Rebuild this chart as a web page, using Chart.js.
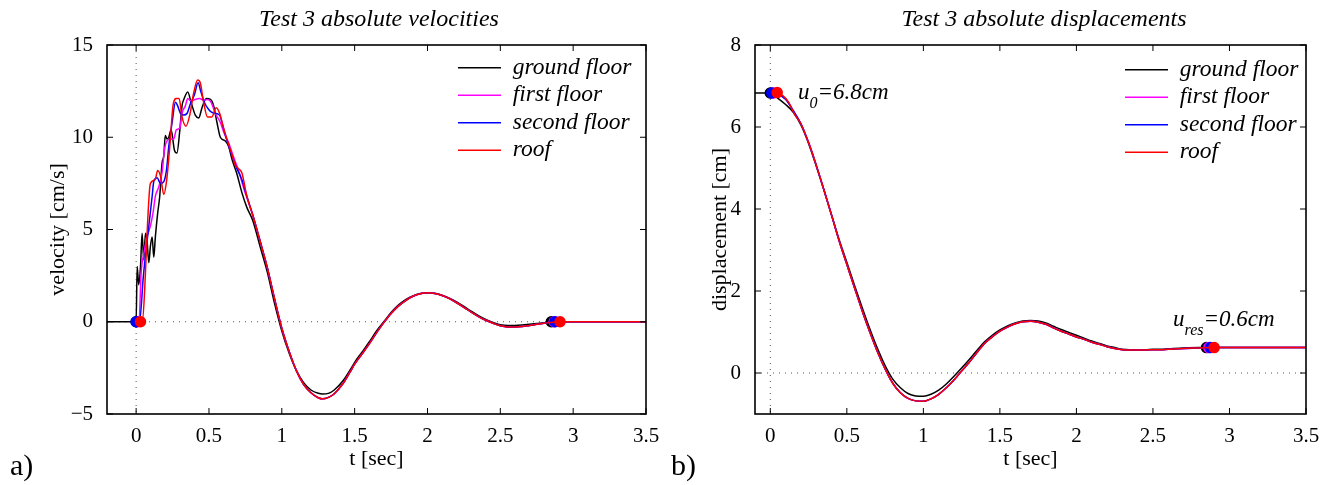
<!DOCTYPE html>
<html>
<head>
<meta charset="utf-8">
<script src="https://cdn.jsdelivr.net/npm/chart.js@4.4.1/dist/chart.umd.min.js"></script>
<style>
  body { margin: 0; background: #fff; width: 1335px; height: 485px; position: relative; overflow: hidden; font-family: "Liberation Serif", serif; color: #000; }
  canvas { position: absolute; top: 0; }
  .ttl { position: absolute; top: 6px; font-style: italic; font-size: 24px; line-height: 24px; white-space: nowrap; transform: translateX(-50%); }
  .tag { position: absolute; top: 450px; font-size: 30px; line-height: 30px; }
  .note { position: absolute; font-style: italic; font-size: 23px; line-height: 23px; white-space: nowrap; }
  .note .sb { font-size: 16px; position: relative; top: 9px; }
</style>
</head>
<body>
<canvas id="velChart" width="665" height="485" style="left:0px;width:665px;height:485px"></canvas>
<canvas id="dispChart" width="670" height="485" style="left:665px;width:670px;height:485px"></canvas>
<div class="ttl" style="left:379px">Test 3 absolute velocities</div>
<div class="ttl" style="left:1044px">Test 3 absolute displacements</div>
<div class="tag" style="left:10px">a)</div>
<div class="tag" style="left:671px">b)</div>
<div class="note" style="left:798px;top:80px">u<span class="sb">0</span>=6.8cm</div>
<div class="note" style="left:1173px;top:307px">u<span class="sb">res</span>=0.6cm</div>

<script>
const seriesNames = ['ground floor', 'first floor', 'second floor', 'roof'];
const seriesColors = ['#000000', '#ff00ff', '#0000ff', '#ff0000'];

// ---- velocities [cm/s] ----
// start of each record (first point is where the circle sits, except ground floor)
const tVelGround = [-0.2, 0, 0.007, 0.018, 0.03, 0.041, 0.052, 0.064, 0.075, 0.087, 0.098, 0.11, 0.121, 0.132, 0.148, 0.162, 0.178, 0.19, 0.2, 0.212, 0.224, 0.24, 0.263, 0.28, 0.3, 0.315, 0.33, 0.354, 0.377, 0.406, 0.43, 0.452, 0.482, 0.51, 0.532, 0.555, 0.578, 0.612, 0.635, 0.658, 0.69, 0.726, 0.76];
const vVelGround = [0, 0, 3.0, 2.0, 3.0, 4.8, 3.35, 4.8, 4.4, 3.2, 4.1, 4.6, 3.5, 4.6, 5.9, 6.8, 8.6, 9.0, 10.1, 9.9, 10.0, 10.4, 9.3, 9.15, 10.4, 11.7, 12.1, 12.45, 11.9, 11.2, 11.05, 11.6, 12.1, 12.05, 11.7, 10.8, 10.0, 9.8, 9.5, 8.8, 8.06, 7.0, 6.2];
const tVelFirst = [0.01, 0.02, 0.034, 0.053, 0.075, 0.098, 0.116, 0.132, 0.155, 0.178, 0.194, 0.212, 0.235, 0.258, 0.276, 0.3, 0.315, 0.338, 0.354, 0.377, 0.406, 0.436, 0.463, 0.49, 0.514, 0.543, 0.578, 0.605, 0.635, 0.67, 0.703, 0.74];
const vVelFirst = [0, 0, 2.6, 3.7, 4.6, 5.2, 5.9, 6.8, 7.3, 8.1, 9.3, 9.8, 9.9, 9.9, 10.4, 10.5, 11.3, 11.7, 12.1, 11.96, 12.05, 12.1, 12.0, 12.05, 11.9, 11.3, 10.8, 10.2, 9.7, 8.9, 8.2, 7.2];
const tVelSecond = [0, 0.023, 0.05, 0.087, 0.11, 0.121, 0.144, 0.167, 0.19, 0.208, 0.224, 0.247, 0.27, 0.285, 0.304, 0.326, 0.35, 0.372, 0.4, 0.425, 0.445, 0.468, 0.498, 0.52, 0.543, 0.573, 0.596, 0.62, 0.658, 0.692, 0.726, 0.76];
const vVelSecond = [0, 0, 2.5, 5.2, 6.8, 7.6, 7.8, 7.5, 7.6, 8.2, 9.5, 10.8, 11.9, 11.7, 11.3, 11.2, 11.3, 11.8, 12.3, 12.95, 12.45, 11.9, 11.5, 11.35, 11.3, 11.2, 10.6, 9.9, 9.0, 8.3, 7.7, 6.8];
const tVelRoof = [0.03, 0.04, 0.098, 0.13, 0.148, 0.167, 0.19, 0.21, 0.235, 0.253, 0.276, 0.295, 0.315, 0.342, 0.368, 0.395, 0.422, 0.44, 0.463, 0.49, 0.52, 0.55, 0.573, 0.6, 0.623, 0.658, 0.68, 0.703, 0.726, 0.76];
const vVelRoof = [0, 0, 7.5, 7.7, 8.2, 7.9, 6.9, 7.7, 9.9, 11.7, 12.1, 12.1, 11.1, 10.6, 11.2, 12.4, 13.1, 12.95, 11.9, 11.1, 11.1, 11.6, 11.3, 10.5, 9.9, 9.06, 8.5, 8.3, 8.06, 6.8];
// free vibration part, nearly identical for the floors
const tVelTail = [0.8, 0.85, 0.9, 0.95, 1.0, 1.05, 1.1, 1.15, 1.2, 1.25, 1.28, 1.32, 1.36, 1.42, 1.47, 1.5, 1.55, 1.6, 1.65, 1.7, 1.75, 1.8, 1.85, 1.9, 1.95, 2.0, 2.05, 2.1, 2.15, 2.2, 2.25, 2.3, 2.35, 2.4, 2.45, 2.5, 2.55, 2.6, 2.65, 2.7, 2.75, 2.8];
const vVelTailGround = [5.5, 4.1, 2.7, 1.0, -0.5, -1.7, -2.65, -3.3, -3.7, -3.88, -3.92, -3.88, -3.7, -3.2, -2.6, -2.2, -1.65, -1.1, -0.5, 0.0, 0.5, 0.9, 1.2, 1.4, 1.53, 1.57, 1.54, 1.44, 1.28, 1.07, 0.83, 0.57, 0.33, 0.12, -0.04, -0.16, -0.2, -0.2, -0.18, -0.14, -0.1, -0.06];
const vVelTailFloors = [5.8, 4.4, 2.95, 1.25, -0.35, -1.6, -2.65, -3.4, -3.85, -4.12, -4.18, -4.1, -3.9, -3.35, -2.7, -2.3, -1.75, -1.2, -0.6, -0.05, 0.45, 0.85, 1.15, 1.38, 1.52, 1.57, 1.53, 1.42, 1.25, 1.03, 0.78, 0.52, 0.28, 0.08, -0.08, -0.22, -0.28, -0.28, -0.26, -0.2, -0.14, -0.08];
const tVelStartMark = [0, 0.01, 0, 0.03];
const tVelEndMark = [2.85, 2.87, 2.875, 2.91];
const vVelRest = [0, 0, 0, 0];

// ---- displacements [cm] ----
const tDispGround = [-0.1, 0, 0.05, 0.1, 0.15];
const dDispGround = [6.83, 6.83, 6.7, 6.55, 6.36];
const tDispFirst = [0.02, 0.05, 0.1, 0.15];
const dDispFirst = [6.83, 6.8, 6.68, 6.4];
const tDispSecond = [0.01, 0.05, 0.1, 0.15];
const dDispSecond = [6.83, 6.8, 6.68, 6.4];
const tDispRoof = [0.045, 0.08, 0.12, 0.16];
const dDispRoof = [6.84, 6.77, 6.6, 6.3];
const tDispBody = [0.2, 0.25, 0.3, 0.35, 0.4, 0.45, 0.5, 0.55, 0.6, 0.65, 0.7, 0.75, 0.8, 0.85, 0.9, 0.95, 1.0, 1.05, 1.1, 1.15, 1.2, 1.25, 1.3, 1.35, 1.4, 1.45, 1.5, 1.55, 1.6, 1.65, 1.7, 1.75, 1.8, 1.85, 1.9, 1.95, 2.0, 2.05, 2.1, 2.15, 2.2, 2.25, 2.3, 2.35, 2.4, 2.45, 2.5, 2.55, 2.6, 2.7, 2.8];
const dDispBodyGround = [6.05, 5.6, 5.05, 4.47, 3.86, 3.25, 2.7, 2.14, 1.6, 1.08, 0.6, 0.18, -0.15, -0.36, -0.5, -0.56, -0.57, -0.52, -0.42, -0.27, -0.08, 0.12, 0.33, 0.55, 0.76, 0.92, 1.05, 1.15, 1.22, 1.27, 1.28, 1.27, 1.22, 1.14, 1.06, 0.99, 0.92, 0.85, 0.78, 0.72, 0.66, 0.62, 0.58, 0.57, 0.57, 0.57, 0.58, 0.58, 0.59, 0.61, 0.62];
const dDispBodyFloors = [6.08, 5.62, 5.07, 4.47, 3.85, 3.22, 2.65, 2.08, 1.52, 1.0, 0.52, 0.1, -0.25, -0.48, -0.62, -0.68, -0.69, -0.63, -0.52, -0.36, -0.17, 0.05, 0.26, 0.5, 0.72, 0.88, 1.02, 1.12, 1.2, 1.25, 1.26, 1.24, 1.19, 1.1, 1.02, 0.95, 0.88, 0.82, 0.75, 0.7, 0.64, 0.6, 0.57, 0.56, 0.56, 0.56, 0.57, 0.57, 0.58, 0.6, 0.61];
const tDispStartMark = [0, 0.02, 0.01, 0.045];
const tDispEndMark = [2.85, 2.865, 2.875, 2.9];
const dDispRest = [0.62, 0.62, 0.62, 0.62];

const tLast = 3.5;

function pts(ts, vs) {
  return ts.map((t, i) => ({ x: t, y: vs[i] }));
}

function buildSeries(heads, tTail, tails, startMarks, endMarks, rest) {
  return seriesNames.map((name, i) => {
    const data = pts(heads[i][0], heads[i][1])
      .concat(pts(tTail, tails[i]))
      .concat([{ x: endMarks[i], y: rest[i] }, { x: tLast, y: rest[i] }]);
    const marks = [startMarks[i], endMarks[i]];
    return {
      label: name,
      data: data,
      borderColor: seriesColors[i],
      backgroundColor: seriesColors[i],
      borderWidth: 1.5,
      pointBorderWidth: 1.5,
      pointStyle: 'circle',
      pointRadius: c => (c.raw && marks.includes(c.raw.x)) ? 5 : 0,
      pointHoverRadius: 0,
      cubicInterpolationMode: 'monotone',
      order: 3 - i
    };
  });
}

const minusFmt = v => String(v).replace('-', '\u2212');
const tickFont = { family: 'Liberation Serif', size: 21 };
const axisFont = { family: 'Liberation Serif', size: 22 };

// frame, inside ticks and dotted zero lines, MATLAB style
const framePlugin = {
  id: 'frame',
  beforeDatasetsDraw(chart) {
    const { ctx, chartArea: a, scales: { x, y } } = chart;
    const x0 = x.getPixelForValue(0), y0 = y.getPixelForValue(0);
    ctx.save();
    ctx.strokeStyle = '#555';
    ctx.lineWidth = 1;
    ctx.setLineDash([1, 5]);
    ctx.beginPath();
    ctx.moveTo(x0, a.top); ctx.lineTo(x0, a.bottom);
    ctx.moveTo(a.left, y0); ctx.lineTo(a.right, y0);
    ctx.stroke();
    ctx.restore();
  },
  afterDatasetsDraw(chart) {
    const { ctx, chartArea: a, scales: { x, y } } = chart;
    const len = 6;
    ctx.save();
    ctx.strokeStyle = '#000';
    ctx.lineWidth = 1;
    ctx.beginPath();
    x.ticks.forEach(t => {
      const px = x.getPixelForValue(t.value);
      ctx.moveTo(px, a.bottom); ctx.lineTo(px, a.bottom - len);
      ctx.moveTo(px, a.top); ctx.lineTo(px, a.top + len);
    });
    y.ticks.forEach(t => {
      const py = y.getPixelForValue(t.value);
      ctx.moveTo(a.left, py); ctx.lineTo(a.left + len, py);
      ctx.moveTo(a.right, py); ctx.lineTo(a.right - len, py);
    });
    ctx.stroke();
    ctx.lineWidth = 1.6;
    ctx.strokeRect(a.left, a.top, a.right - a.left, a.bottom - a.top);
    ctx.restore();
  }
};

// put the legend box in the upper right of the plot
function legendPlace(left, top) {
  return {
    id: 'legendPlace',
    beforeDraw(chart) {
      const lg = chart.legend;
      if (!lg) return;
      lg.left = left; lg.top = top;
      lg.width = 230; lg.height = 200;
      lg.right = left + 230; lg.bottom = top + 200;
    }
  };
}

function makeChart(id, datasets, opt) {
  return new Chart(document.getElementById(id), {
    type: 'line',
    data: { datasets: datasets },
    options: {
      responsive: false,
      animation: false,
      events: [],
      layout: { padding: { left: opt.padLeft, right: opt.padRight, top: 45, bottom: 0 } },
      scales: {
        x: {
          type: 'linear',
          min: opt.xMin, max: 3.5,
          grid: { display: false },
          border: { display: false },
          ticks: { stepSize: 0.5, includeBounds: false, maxRotation: 0, autoSkip: false, padding: 2, color: '#000', font: tickFont, callback: minusFmt },
          title: { display: true, text: 't [sec]', color: '#000', font: axisFont, padding: { top: 0, bottom: 13 } },
          afterFit: s => { s.height = 71; }
        },
        y: {
          min: opt.yMin, max: opt.yMax,
          grid: { display: false },
          border: { display: false },
          ticks: { stepSize: opt.yStep, includeBounds: false, padding: 6, color: '#000', font: tickFont, callback: minusFmt },
          title: { display: true, text: opt.yTitle, color: '#000', font: axisFont, padding: { top: 4, bottom: 4 } },
          afterFit: s => { s.width = opt.yWidth; }
        }
      },
      plugins: {
        tooltip: { enabled: false },
        legend: {
          position: 'chartArea',
          align: 'start',
          labels: {
            usePointStyle: true,
            pointStyle: 'line',
            pointStyleWidth: 43,
            padding: 4,
            color: '#000',
            font: { family: 'Liberation Serif', size: 23.5, style: 'italic' },
            sort: (a, b) => a.datasetIndex - b.datasetIndex
          }
        }
      }
    },
    plugins: [framePlugin, legendPlace(opt.legendLeft, opt.legendTop)]
  });
}

const velSets = buildSeries(
  [[tVelGround, vVelGround], [tVelFirst, vVelFirst], [tVelSecond, vVelSecond], [tVelRoof, vVelRoof]],
  tVelTail,
  [vVelTailGround, vVelTailFloors, vVelTailFloors, vVelTailFloors],
  tVelStartMark, tVelEndMark, vVelRest
);

const dispSets = buildSeries(
  [[tDispGround, dDispGround], [tDispFirst, dDispFirst], [tDispSecond, dDispSecond], [tDispRoof, dDispRoof]],
  tDispBody,
  [dDispBodyGround, dDispBodyFloors, dDispBodyFloors, dDispBodyFloors],
  tDispStartMark, tDispEndMark, dDispRest
);

makeChart('velChart', velSets, {
  padLeft: 41, padRight: 19, yWidth: 66,
  xMin: -0.2, yMin: -5, yMax: 15, yStep: 5,
  yTitle: 'velocity [cm/s]',
  legendLeft: 454, legendTop: 52
});

makeChart('dispChart', dispSets, {
  padLeft: 38, padRight: 29, yWidth: 52,
  xMin: -0.1, yMin: -1, yMax: 8, yStep: 2,
  yTitle: 'displacement [cm]',
  legendLeft: 456, legendTop: 54
});
</script>
</body>
</html>
